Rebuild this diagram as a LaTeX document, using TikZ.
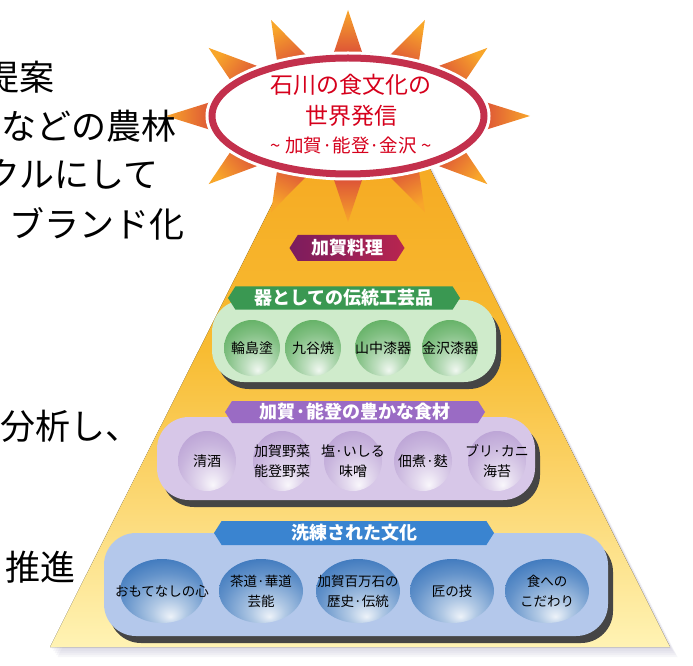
\documentclass[tikz,border=0pt]{standalone}
\usepackage{fontspec}
\setmainfont{Noto Sans CJK JP}
\usetikzlibrary{calc,shapes.geometric,shapes.symbols,shadows}

\definecolor{pyrtop}{HTML}{F4A01A}
\definecolor{pyrmid}{HTML}{F8BC32}
\definecolor{pyrbot}{HTML}{FFF3B4}
\definecolor{haze}{HTML}{B8B4CC}
\definecolor{spiketip}{HTML}{F8A62A}
\definecolor{spikebase}{HTML}{D2333C}
\definecolor{sunrim}{HTML}{C3304C}
\definecolor{sunred}{HTML}{D6001C}
\definecolor{kagaL}{HTML}{7B1C5E}
\definecolor{kagaR}{HTML}{B8254F}
\definecolor{tagg}{HTML}{3A9852}
\definecolor{tagp}{HTML}{9A6BC4}
\definecolor{tagb}{HTML}{3A84D0}
\definecolor{trayg}{HTML}{CFEBCB}
\definecolor{trayp}{HTML}{D7C7E8}
\definecolor{trayb}{HTML}{B4C8EB}
\definecolor{trayshade}{HTML}{454545}
\definecolor{ballg}{HTML}{4AA44C}
\definecolor{ballp}{HTML}{B195CF}
\definecolor{ballb}{HTML}{1F63B3}

% glassy buttons, bright spot low in the ball
\pgfdeclareradialshading{glassg}{\pgfpoint{5bp}{-20bp}}{color(0bp)=(white!92!ballg); color(10bp)=(white!65!ballg); color(26bp)=(white!30!ballg); color(44bp)=(ballg); color(64bp)=(ballg!75!black)}
\pgfdeclareradialshading{glassp}{\pgfpoint{5bp}{-20bp}}{color(0bp)=(white!92!ballp); color(10bp)=(white!65!ballp); color(26bp)=(white!30!ballp); color(44bp)=(ballp); color(64bp)=(ballp!75!black)}
\pgfdeclareradialshading{glassb}{\pgfpoint{5bp}{-20bp}}{color(0bp)=(white!92!ballb); color(10bp)=(white!65!ballb); color(26bp)=(white!30!ballb); color(44bp)=(ballb); color(64bp)=(ballb!75!black)}

\tikzset{
  font=\fontsize{14}{20}\selectfont,
  pyr/.style   ={top color=pyrtop, bottom color=pyrbot, middle color=pyrmid},
  spike/.style ={top color=spiketip, bottom color=spikebase, shading angle=#1},
  tag/.style   ={shape=signal, signal to=west and east, signal pointer angle=115, inner sep=0pt, text=white, font=\fontsize{18}{20}\selectfont\bfseries},
  tray/.style  ={rectangle, rounded corners=32pt, fill=#1, drop shadow={shadow xshift=5pt, shadow yshift=-7pt, fill=trayshade, opacity=1}},
  bub/.style   ={ellipse, inner sep=0pt, shading=#1},
  lbl/.style   ={align=center, inner sep=0pt},
  side/.style  ={inner sep=0pt, font=\fontsize{35}{38}\selectfont},
}

\begin{document}
\begin{tikzpicture}[x=1pt,y=1pt]
  \useasboundingbox (0,0) rectangle (693,665);
  \clip (0,0) rectangle (693,665);

  % pyramid with a soft shadow, its top hides under the sun
  \foreach \k in {1,...,5}
    \fill[haze, opacity=0.12, shift={(1.5*\k,-2*\k)}] (348,612) -- (50,18) -- (670,18) -- (372,612) -- cycle;
  \fill[pyr] (348,612) -- (50,18) -- (670,18) -- (372,612) -- cycle;

  % sun
  \coordinate (sun) at (348,549);
  \foreach \a [evaluate=\a as \sa using \a-90] in {0,40,65,90,115,140,180,220,245,270,295,320}{
    \path ($(sun)+(\a:182 and 106)$) coordinate (tip)
          ($(sun)+(\a:118 and 46)$) coordinate (foot);
    \shade[spike=\sa] ($(foot)!20pt!90:(tip)$) -- (tip) -- ($(foot)!20pt!-90:(tip)$) -- cycle;
  }
  \draw[white, line width=13pt] (sun) ellipse [x radius=136, y radius=58];
  \draw[sunrim, line width=7pt, fill=white] (sun) ellipse [x radius=136, y radius=58];
  \node[lbl, text=sunred, font=\fontsize{23}{31}\selectfont] (motto) at (351,551)
    {石川の食文化の\\世界発信\\[-3pt]{\fontsize{18.5}{24}\selectfont\textasciitilde{} 加賀·能登·金沢 \textasciitilde}};

  % top tag
  \node[tag, left color=kagaL, right color=kagaR, minimum width=115, minimum height=26] (kaga) at (347,417) {加賀料理};

  % crafts
  \node[tray=trayg, minimum width=284, minimum height=82] (gtray) at (354,324) {};
  \node[tag, fill=tagg, minimum width=232, minimum height=23] (gtag) at (344,367) {器としての伝統工芸品};
  \node[bub=glassg, minimum size=56, label={[lbl]center:輪島塗}] (wajima) at (252,317) {};
  \node[bub=glassg, minimum size=56, label={[lbl]center:九谷焼}] (kutani) at (313,317) {};
  \node[bub=glassg, minimum size=56, label={[lbl]center:山中漆器}] (yamanaka) at (383,317) {};
  \node[bub=glassg, minimum size=56, label={[lbl]center:金沢漆器}] (kanazawa) at (450,317) {};

  % foods
  \node[tray=trayp, minimum width=378, minimum height=83] (ptray) at (346,206.5) {};
  \node[tag, fill=tagp, minimum width=260, minimum height=22] (ptag) at (355,253) {加賀·能登の豊かな食材};
  \node[bub=glassp, minimum width=58, minimum height=60, label={[lbl]center:清酒}] (sake) at (207,204) {};
  \node[bub=glassp, minimum width=58, minimum height=60, label={[lbl]center:加賀野菜\\能登野菜}] (yasai) at (282,204) {};
  \node[bub=glassp, minimum width=58, minimum height=60, label={[lbl]center:塩·いしる\\味噌}] (shio) at (353,204) {};
  \node[bub=glassp, minimum width=58, minimum height=60, label={[lbl]center:佃煮·麩}] (fu) at (423,204) {};
  \node[bub=glassp, minimum width=58, minimum height=60, label={[lbl]center:ブリ·カニ\\海苔}] (buri) at (497,204) {};

  % culture
  \node[tray=trayb, minimum width=504, minimum height=103] (btray) at (356,80.5) {};
  \node[tag, fill=tagb, minimum width=280, minimum height=24] (btag) at (354,132) {洗練された文化};
  \node[bub=glassb, minimum width=84, minimum height=64, label={[lbl, font=\fontsize{13.5}{20}\selectfont]center:おもてなしの心}] (omote) at (162,74) {};
  \node[bub=glassb, minimum width=84, minimum height=64, label={[lbl, font=\fontsize{13.5}{20}\selectfont]center:茶道·華道\\芸能}] (sado) at (261,74) {};
  \node[bub=glassb, minimum width=84, minimum height=64, label={[lbl, font=\fontsize{13.5}{20}\selectfont]center:加賀百万石の\\歴史·伝統}] (rekishi) at (358,74) {};
  \node[bub=glassb, minimum width=84, minimum height=64, label={[lbl, font=\fontsize{13.5}{20}\selectfont]center:匠の技}] (takumi) at (452,74) {};
  \node[bub=glassb, minimum width=84, minimum height=64, label={[lbl, font=\fontsize{13.5}{20}\selectfont]center:食への\\こだわり}] (kodawari) at (547,74) {};

  % running text on the left
  \node[side, anchor=east] (teian) at (55,588) {提案};
  \node[side, anchor=east] (norin) at (177,539) {などの農林};
  \node[side, anchor=east] (recycle) at (159,491) {クルにして};
  \node[side, anchor=east] (brand) at (185,441) {ブランド化};
  \node[side, anchor=west] (bunseki) at (0,239) {分析し、};
  \node[side, anchor=west] (suishin) at (5,98) {推進};
\end{tikzpicture}
\end{document}
